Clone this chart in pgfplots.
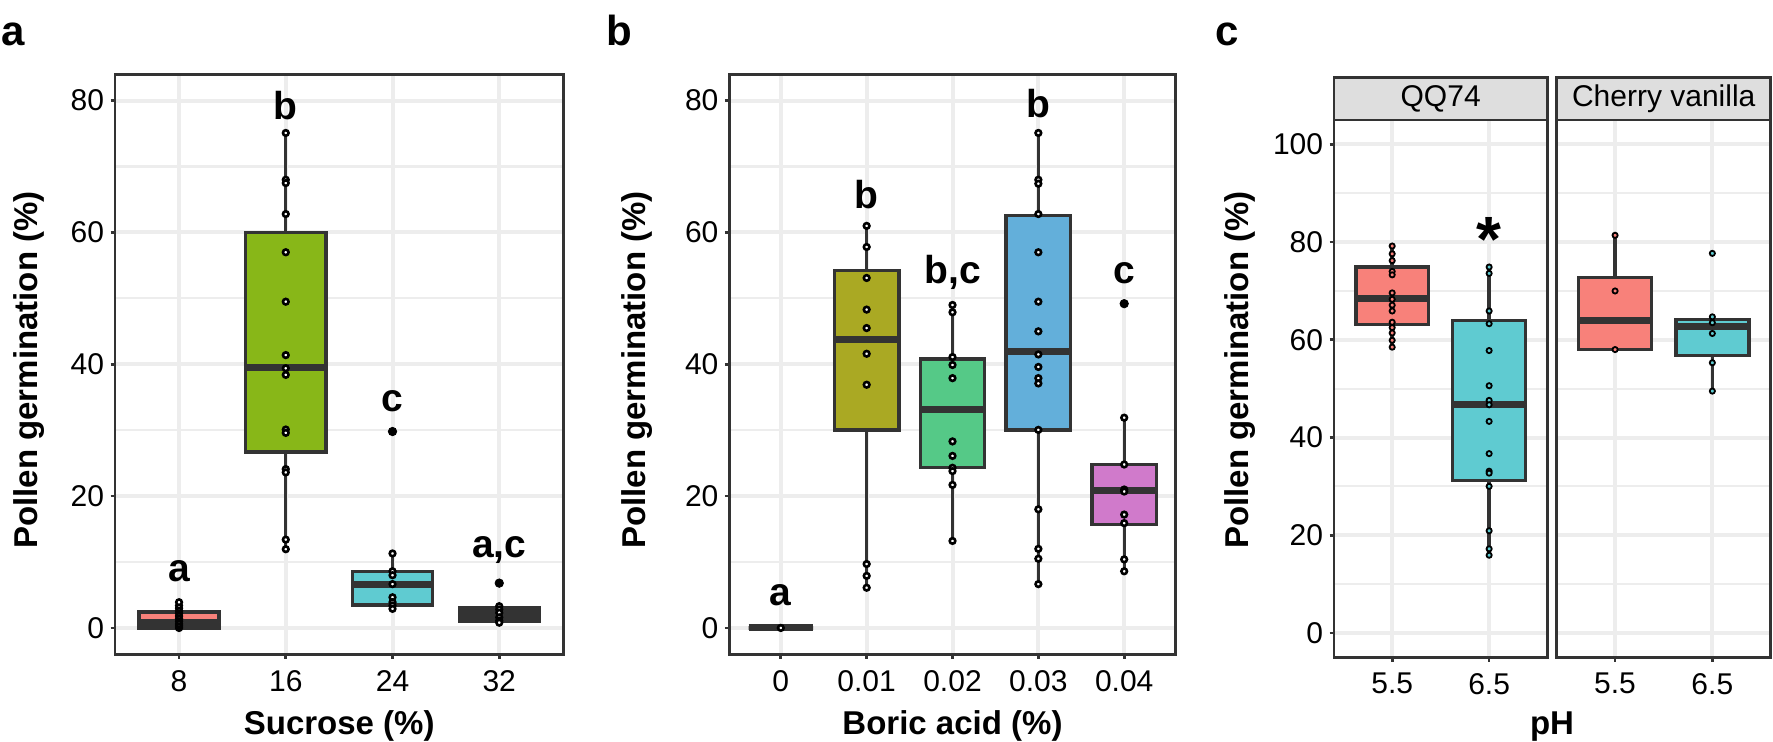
\documentclass[border=0pt]{standalone}
\usepackage{pgfplots}
\pgfplotsset{compat=1.18}
\usepgfplotslibrary{statistics}
\usepackage{fontspec}
\setmainfont{Liberation Sans}
\definecolor{dline}{HTML}{333333}
\definecolor{gmaj}{HTML}{EDEDED}
\definecolor{stripg}{HTML}{DEDEDE}
\definecolor{csal}{HTML}{F8817A}
\definecolor{cgrn}{HTML}{88B718}
\definecolor{cteal}{HTML}{5FCBD1}
\definecolor{colive}{HTML}{AAA923}
\definecolor{cgreen}{HTML}{55C987}
\definecolor{cblue}{HTML}{63AFDA}
\definecolor{cpink}{HTML}{D07ACB}
\newcommand\ticfont{\fontsize{15}{15}\selectfont}
\newcommand\titfont{\fontsize{16.5}{16.5}\selectfont\bfseries}
\newcommand\annfont{\fontsize{19.5}{19.5}\selectfont\bfseries}
\newcommand\panfont{\fontsize{21}{21}\selectfont\bfseries}
\newcommand\astfont{\fontsize{32}{32}\selectfont\bfseries}
\pgfplotsset{
 myax/.style={
  scale only axis, anchor=south west,
  axis line style={draw=dline, line width=1.35pt},
  grid=both,
  major grid style={draw=gmaj, line width=2pt},
  minor grid style={draw=gmaj, line width=1.1pt},
  tick style={draw=dline, line width=1.35pt},
  tick align=outside, tickpos=left,
  major tick length=2.25pt, minor tick length=0pt,
  ticklabel style={font=\ticfont},
  yticklabel style={inner sep=0pt, xshift=-3pt},
  xticklabel style={inner sep=0pt, yshift=-5.5pt},
  clip=false,
  boxplot/draw direction=y,
  boxplot/every box/.style={draw=dline, line width=1.7pt},
  boxplot/every median/.style={draw=dline, line width=3.5pt},
  boxplot/every whisker/.style={draw=dline, line width=1.7pt},
 },
 pt/.style={only marks, mark=*, mark size=1.4pt, mark options={fill=white, draw=black, line width=1.3pt}},
 outl/.style={only marks, mark=*, mark size=2.1pt, mark options={fill=black, draw=black}},
 bp/.style n args={6}{boxplot prepared={draw position=#1, lower whisker=#2, lower quartile=#3, median=#4, upper quartile=#5, upper whisker=#6, box extend=0.75, whisker extend=0}},
}
\begin{document}
\begin{tikzpicture}[x=0.5pt,y=0.5pt]
\useasboundingbox (0,0) rectangle (1773,741);
\fill[white] (0,0) rectangle (1773,741);
% panel letters
\node[anchor=base west, inner sep=0pt, font=\panfont] at (1,696) {a};
\node[anchor=base west, inner sep=0pt, font=\panfont] at (606,696) {b};
\node[anchor=base west, inner sep=0pt, font=\panfont] at (1215,696) {c};
% axis titles
\node[rotate=90, font=\titfont, inner sep=0pt] at (29,371) {Pollen germination (\%)};
\node[rotate=90, font=\titfont, inner sep=0pt] at (637,371) {Pollen germination (\%)};
\node[rotate=90, font=\titfont, inner sep=0pt] at (1240,371) {Pollen germination (\%)};
\node[anchor=base, font=\titfont, inner sep=0pt] at (339.2,7) {Sucrose (\%)};
\node[anchor=base, font=\titfont, inner sep=0pt] at (952.5,7) {Boric acid (\%)};
\node[anchor=base, font=\titfont, inner sep=0pt] at (1552,7) {pH};

% ---------------- panel a
\begin{axis}[myax, at={(57.5pt,43.35pt)}, width=224.15pt, height=290pt,
  xmin=0.4, xmax=4.6, ymin=-4, ymax=84,
  xtick={1,2,3,4}, xticklabels={8,16,24,32},
  ytick={0,20,40,60,80}, yticklabels={0,20,40,60,80},
  minor ytick={10,30,50,70}]
\addplot[bp={1}{0}{0}{0.85}{2.4}{3.9}, fill=csal] coordinates {};
\addplot[bp={2}{11.95}{26.7}{39.5}{60.0}{75.1}, fill=cgrn] coordinates {};
\addplot[bp={3}{2.6}{3.5}{6.6}{8.6}{11.3}, fill=cteal] coordinates {};
\addplot[bp={4}{0.8}{1.0}{2.0}{3.0}{3.4}, fill=dline] coordinates {};
\addplot[outl] coordinates {(3,29.8) (4,6.8)};
\addplot[pt] coordinates {(1,0) (1,0.3) (1,0.6) (1,1.0) (1,1.4) (1,1.8) (1,2.2) (1,2.6) (1,3.0) (1,3.4) (1,3.9)};
\addplot[pt] coordinates {(2,75.1) (2,68.0) (2,67.5) (2,62.8) (2,57.0) (2,49.5) (2,41.4) (2,39.4) (2,38.4) (2,30.1) (2,29.6) (2,24.1) (2,23.6) (2,13.4) (2,11.95)};
\addplot[pt] coordinates {(3,11.3) (3,8.6) (3,8.0) (3,6.65) (3,4.65) (3,3.9) (3,3.4) (3,2.9)};
\addplot[pt] coordinates {(4,3.3) (4,2.8) (4,2.3) (4,1.6) (4,1.1) (4,0.8)};
\node[font=\annfont, anchor=base, inner sep=0pt] at (axis cs:1,7.06) {a};
\node[font=\annfont, anchor=base, inner sep=0pt] at (axis cs:2,77.2) {b};
\node[font=\annfont, anchor=base, inner sep=0pt] at (axis cs:3,32.8) {c};
\node[font=\annfont, anchor=base, inner sep=0pt] at (axis cs:4,10.75) {a,c};
\end{axis}

% ---------------- panel b
\begin{axis}[myax, at={(364.65pt,43.35pt)}, width=223.2pt, height=290pt,
  xmin=0.4, xmax=5.6, ymin=-4, ymax=84,
  xtick={1,2,3,4,5}, xticklabels={0,0.01,0.02,0.03,0.04},
  ytick={0,20,40,60,80}, yticklabels={0,20,40,60,80},
  minor ytick={10,30,50,70}]
\addplot[bp={1}{0}{0}{0}{0}{0}, fill=csal] coordinates {};
\addplot[bp={2}{6.1}{30.05}{43.7}{54.2}{61.0}, fill=colive] coordinates {};
\addplot[bp={3}{13.2}{24.3}{33.2}{40.8}{49.0}, fill=cgreen] coordinates {};
\addplot[bp={4}{6.65}{30.05}{41.9}{62.6}{75.1}, fill=cblue] coordinates {};
\addplot[bp={5}{8.6}{15.7}{20.9}{24.8}{31.9}, fill=cpink] coordinates {};
\addplot[outl] coordinates {(5,49.2)};
\addplot[pt] coordinates {(1,0)};
\addplot[pt] coordinates {(2,61.0) (2,57.8) (2,53.1) (2,48.3) (2,45.5) (2,41.6) (2,36.9) (2,9.7) (2,7.9) (2,6.1)};
\addplot[pt] coordinates {(3,49.0) (3,47.9) (3,41.1) (3,39.9) (3,37.9) (3,28.3) (3,26.1) (3,24.3) (3,23.8) (3,21.7) (3,13.2)};
\addplot[pt] coordinates {(4,75.1) (4,68.0) (4,67.4) (4,62.8) (4,57.0) (4,49.5) (4,45.0) (4,41.5) (4,39.6) (4,37.9) (4,37.1) (4,30.05) (4,18.0) (4,12.0) (4,10.5) (4,6.65)};
\addplot[pt] coordinates {(5,31.9) (5,24.8) (5,21.0) (5,20.7) (5,17.2) (5,15.9) (5,10.4) (5,8.6)};
\node[font=\annfont, anchor=base, inner sep=0pt] at (axis cs:1,3.43) {a};
\node[font=\annfont, anchor=base, inner sep=0pt] at (axis cs:2,63.7) {b};
\node[font=\annfont, anchor=base, inner sep=0pt] at (axis cs:3,52.2) {b,c};
\node[font=\annfont, anchor=base, inner sep=0pt] at (axis cs:4,77.4) {b};
\node[font=\annfont, anchor=base, inner sep=0pt] at (axis cs:5,52.2) {c};
\end{axis}

% ---------------- panel c strips
\draw[fill=stripg, draw=dline, line width=1.35pt] (1334,621) rectangle (1547.3,663.7);
\node[font=\ticfont, inner sep=0pt] at (1440.65,642.3) {QQ74};
\draw[fill=stripg, draw=dline, line width=1.35pt] (1556.7,621) rectangle (1770.7,663.7);
\node[font=\ticfont, inner sep=0pt] at (1663.7,642.3) {Cherry vanilla};
% ---------------- panel c, facet QQ74
\begin{axis}[myax, at={(667pt,41.85pt)}, width=106.65pt, height=268.65pt,
  xmin=0.4, xmax=2.6, ymin=-5, ymax=105,
  xtick={1,2}, xticklabels={5.5,6.5},
  ytick={0,20,40,60,80,100}, yticklabels={0,20,40,60,80,100},
  minor ytick={10,30,50,70,90}]
\addplot[bp={1}{58.5}{63.1}{68.4}{74.9}{79.2}, fill=csal] coordinates {};
\addplot[bp={2}{15.9}{31.2}{46.7}{64.0}{74.9}, fill=cteal] coordinates {};
\addplot[only marks, mark=*, mark size=1.3pt, mark options={fill=csal, draw=black, line width=0.9pt}] coordinates {(1,79.2) (1,77.6) (1,76.2) (1,74.0) (1,73.3) (1,69.6) (1,68.3) (1,67.1) (1,65.9) (1,63.6) (1,62.5) (1,61.4) (1,59.9) (1,58.5)};
\addplot[only marks, mark=*, mark size=1.3pt, mark options={fill=cteal, draw=black, line width=0.9pt}] coordinates {(2,74.9) (2,73.6) (2,65.9) (2,63.3) (2,57.8) (2,50.6) (2,47.6) (2,46.7) (2,43.3) (2,36.7) (2,33.1) (2,32.7) (2,30.0) (2,20.9) (2,17.2) (2,15.9)};
\node[font=\astfont, inner sep=0pt] at (axis cs:2,80.5) {*};
\end{axis}
% ---------------- panel c, facet Cherry vanilla
\begin{axis}[myax, at={(778.35pt,41.85pt)}, width=107pt, height=268.65pt,
  xmin=0.4, xmax=2.6, ymin=-5, ymax=105,
  xtick={1,2}, xticklabels={5.5,6.5},
  ytick={0,20,40,60,80,100}, yticklabels={},
  minor ytick={10,30,50,70,90}, ytick style={draw=none}]
\addplot[bp={1}{58.0}{58.0}{64.0}{72.7}{81.4}, fill=csal] coordinates {};
\addplot[bp={2}{49.5}{56.8}{62.8}{64.2}{64.7}, fill=cteal] coordinates {};
\addplot[only marks, mark=*, mark size=1.3pt, mark options={fill=csal, draw=black, line width=0.9pt}] coordinates {(1,81.4) (1,70.0) (1,58.0)};
\addplot[only marks, mark=*, mark size=1.3pt, mark options={fill=cteal, draw=black, line width=0.9pt}] coordinates {(2,77.7) (2,64.7) (2,63.5) (2,61.3) (2,55.3) (2,49.5)};
\end{axis}
\end{tikzpicture}
\end{document}
